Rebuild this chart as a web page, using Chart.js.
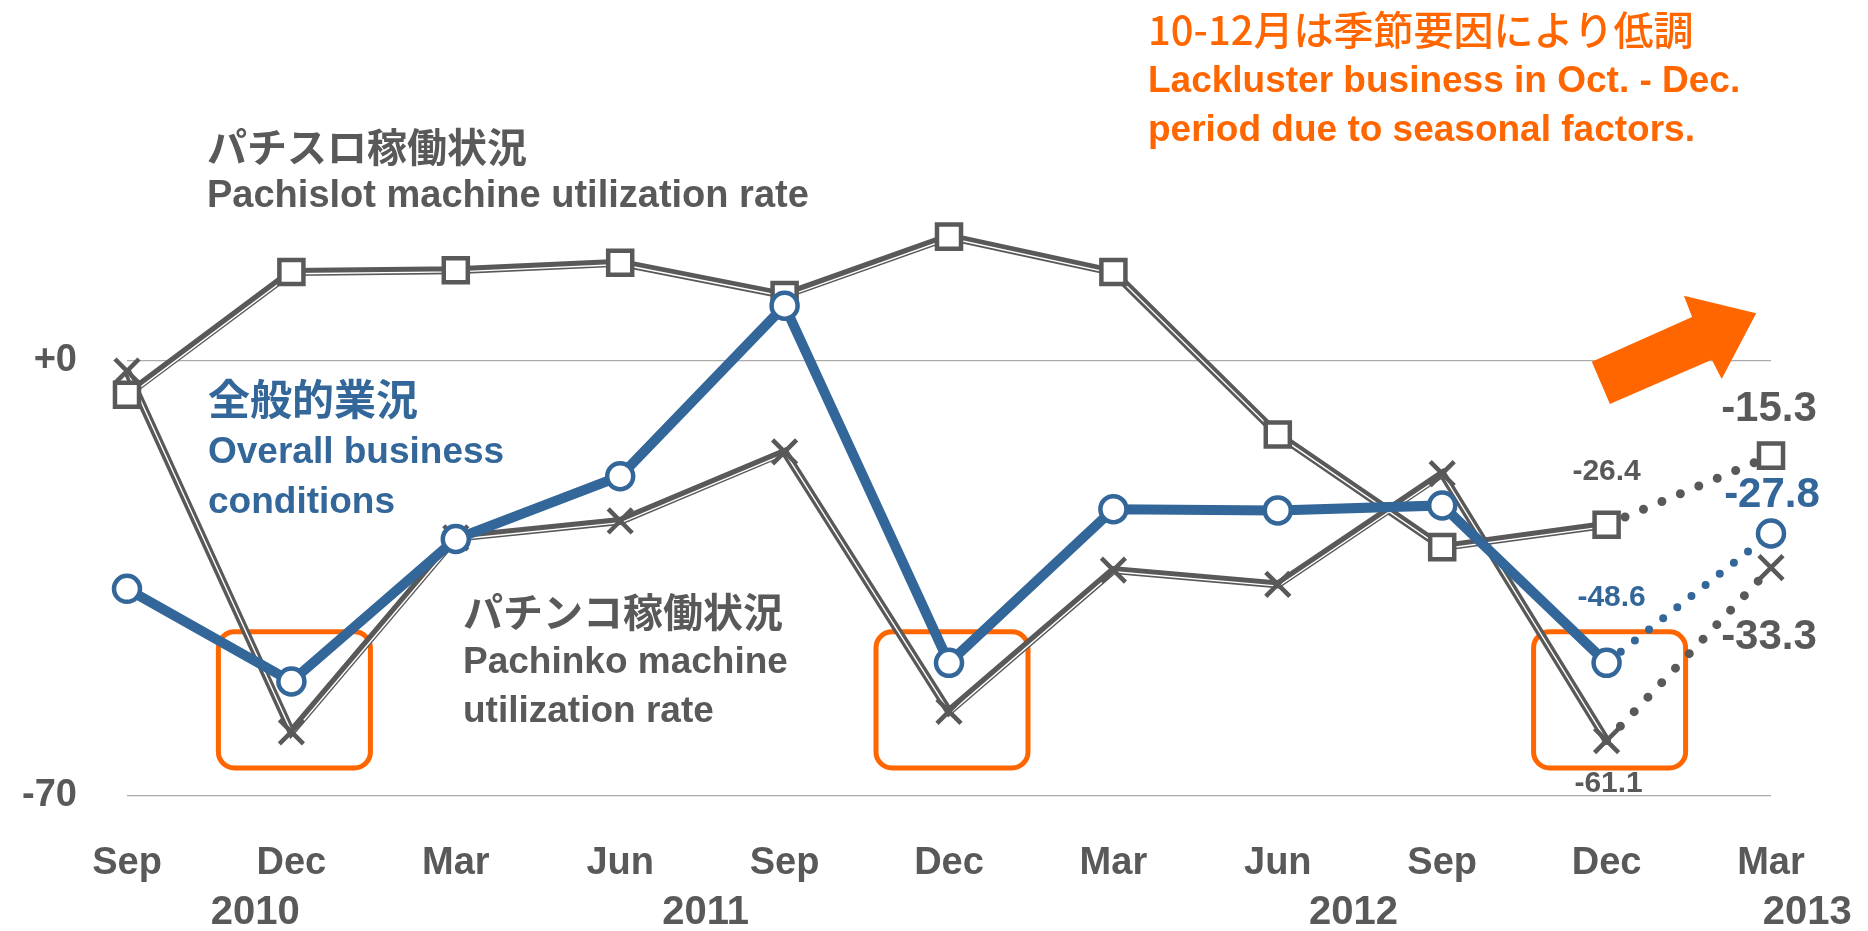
<!DOCTYPE html>
<html>
<head>
<meta charset="utf-8">
<script src="https://cdn.jsdelivr.net/npm/chart.js@4.4.1/dist/chart.umd.min.js"></script>
<style>
  html, body { margin: 0; padding: 0; background: #fff; }
  #wrap { width: 1868px; height: 931px; }
</style>
</head>
<body>
<div id="wrap"><canvas id="myChart" width="1868" height="931"></canvas></div>
<script>
// quarters, Sep 2010 .. Mar 2013 (last point = forecast)
const months = ['Sep', 'Dec', 'Mar', 'Jun', 'Sep', 'Dec', 'Mar', 'Jun', 'Sep', 'Dec', 'Mar'];
const years = ['2010', '2011', '2012', '2013'];
const yTicks = [-70, 0];

const overall   = [-36.7, -51.6, -28.7, -18.6, 8.8, -48.6, -23.9, -24.1, -23.3, -48.6, -27.8];
const pachislot = [-5.5, 14.2, 14.5, 15.7, 10.5, 19.9, 14.2, -11.9, -30.0, -26.4, -15.3];
const pachinko  = [-1.7, -59.7, -28.5, -25.8, -14.7, -56.4, -33.7, -36.0, -18.2, -61.1, -33.3];

const LAST_ACTUAL = 9;

const GRAY = '#595959';
const BLUE = '#336699';
const ORANGE = '#FF6600';
const EN = "'Liberation Sans', Arial, sans-serif";
const JP = "'Noto Sans CJK JP', 'Noto Sans', sans-serif";

function actual(arr) {
    return arr.map((v, i) => i <= LAST_ACTUAL ? v : null);
}
function forecast(arr) {
    return arr.map((v, i) => i >= LAST_ACTUAL ? v : null);
}

function grayLine(data, order) {
    return { data: actual(data), borderColor: GRAY, borderWidth: 8, pointRadius: 0, order: order };
}
function whiteLine(data, order) {
    return { data: actual(data), borderColor: '#ffffff', borderWidth: 1.4, pointRadius: 0, order: order, inner: true };
}
function dotLine(data, color, width, gap, order) {
    return {
        data: forecast(data), borderColor: color, borderWidth: width, borderDash: [0, gap],
        borderCapStyle: 'round', pointRadius: 0, order: order
    };
}
function markers(data, style, radius, color, order) {
    return {
        data: data, showLine: false, pointStyle: style, pointRadius: radius,
        pointBorderWidth: 4.5, pointBorderColor: color, pointBackgroundColor: '#ffffff', order: order
    };
}

function roundRect(ctx, x, y, w, h, r) {
    ctx.beginPath();
    ctx.moveTo(x + r, y);
    ctx.lineTo(x + w - r, y);
    ctx.arcTo(x + w, y, x + w, y + r, r);
    ctx.lineTo(x + w, y + h - r);
    ctx.arcTo(x + w, y + h, x + w - r, y + h, r);
    ctx.lineTo(x + r, y + h);
    ctx.arcTo(x, y + h, x, y + h - r, r);
    ctx.lineTo(x, y + r);
    ctx.arcTo(x, y, x + r, y, r);
    ctx.closePath();
}

function text(ctx, str, x, y, font, color, align) {
    ctx.font = font;
    ctx.fillStyle = color;
    ctx.textAlign = align || 'left';
    ctx.textBaseline = 'middle';
    ctx.fillText(str, x, y);
}

const annotations = {
    id: 'annotations',
    beforeDatasetsDraw(chart) {
        const { ctx, scales: { x, y } } = chart;
        // orange boxes around the Oct-Dec dips
        ctx.save();
        ctx.strokeStyle = ORANGE;
        ctx.lineWidth = 5;
        [1, 5, 9].forEach(i => {
            const cx = x.getPixelForValue(i) + 3;
            const top = y.getPixelForValue(-43.6);
            const bottom = y.getPixelForValue(-65.5);
            roundRect(ctx, cx - 76, top, 152, bottom - top, 16);
            ctx.stroke();
        });
        ctx.restore();
    },
    // shift the thin white core a bit so the gray line reads as thick + thin
    beforeDatasetDraw(chart, args) {
        if (chart.data.datasets[args.index].inner) {
            chart.ctx.save();
            chart.ctx.translate(1.0, 1.7);
        }
    },
    afterDatasetDraw(chart, args) {
        if (chart.data.datasets[args.index].inner) {
            chart.ctx.restore();
        }
    },
    afterDatasetsDraw(chart) {
        const { ctx } = chart;
        ctx.save();
        // series notes
        text(ctx, 'パチスロ稼働状況', 207, 147, 'bold 40px ' + JP, GRAY);
        text(ctx, 'Pachislot machine utilization rate', 207, 197, 'bold 38px ' + EN, GRAY);

        text(ctx, '全般的業況', 208, 399, 'bold 42px ' + JP, BLUE);
        text(ctx, 'Overall business', 208, 453, 'bold 37px ' + EN, BLUE);
        text(ctx, 'conditions', 208, 503, 'bold 37px ' + EN, BLUE);

        text(ctx, 'パチンコ稼働状況', 463, 612, 'bold 40px ' + JP, GRAY);
        text(ctx, 'Pachinko machine', 463, 663, 'bold 37px ' + EN, GRAY);
        text(ctx, 'utilization rate', 463, 712, 'bold 37px ' + EN, GRAY);

        text(ctx, '10-12月は季節要因により低調', 1148, 30, '500 40px ' + JP, ORANGE);
        text(ctx, 'Lackluster business in Oct. - Dec.', 1148, 82, 'bold 37px ' + EN, ORANGE);
        text(ctx, 'period due to seasonal factors.', 1148, 131, 'bold 37px ' + EN, ORANGE);

        // value labels for latest actual and forecast points (marker datasets)
        const valueLabels = [
            { ds: 4, idx: 9, dx: 0, dy: -53, size: 30, color: GRAY },
            { ds: 4, idx: 10, dx: -2, dy: -46, size: 42, color: GRAY },
            { ds: 3, idx: 9, dx: 2, dy: 43, size: 30, color: GRAY },
            { ds: 3, idx: 10, dx: -2, dy: 70, size: 42, color: GRAY },
            { ds: 0, idx: 9, dx: 5, dy: -65, size: 30, color: BLUE },
            { ds: 0, idx: 10, dx: 1, dy: -38, size: 42, color: BLUE }
        ];
        valueLabels.forEach(l => {
            const pt = chart.getDatasetMeta(l.ds).data[l.idx];
            const v = chart.data.datasets[l.ds].data[l.idx];
            text(ctx, v.toFixed(1), pt.x + l.dx, pt.y + l.dy, 'bold ' + l.size + 'px ' + EN, l.color, 'center');
        });
        ctx.restore();
    },
    afterDraw(chart) {
        const { ctx, scales: { x, y } } = chart;
        ctx.save();
        // upward arrow
        const arrow = [[9.02, -7.0], [8.91, -0.2], [9.52, 7.0], [9.47, 10.4], [9.91, 7.6], [9.70, -3.0], [9.64, 0.1]];
        ctx.beginPath();
        arrow.forEach((p, i) => {
            const px = x.getPixelForValue(p[0]);
            const py = y.getPixelForValue(p[1]);
            if (i === 0) ctx.moveTo(px, py); else ctx.lineTo(px, py);
        });
        ctx.closePath();
        ctx.fillStyle = ORANGE;
        ctx.fill();

        // year row under the month ticks
        const yearAt = [0.78, 3.52, 7.46, 10.22];
        years.forEach((yr, i) => {
            text(ctx, yr, x.getPixelForValue(yearAt[i]), 913, 'bold 40px ' + EN, GRAY, 'center');
        });
        ctx.restore();
    }
};

document.addEventListener('DOMContentLoaded', function () {
    const ctx = document.getElementById('myChart');

    new Chart(ctx, {
        type: 'line',
        data: {
            labels: months,
            datasets: [
                markers(overall, 'circle', 13, BLUE, 1),                     // 0
                { data: actual(overall), borderColor: BLUE, borderWidth: 10, pointRadius: 0, order: 2 }, // 1
                dotLine(overall, BLUE, 8, 18, 3),                            // 2 (forecast)
                markers(pachinko, 'crossRot', 17, GRAY, 4),                  // 3
                markers(pachislot, 'rect', 17, GRAY, 4),                     // 4
                dotLine(pachinko, GRAY, 9, 20, 5),                           // 5
                dotLine(pachislot, GRAY, 9, 20, 5),                          // 6
                grayLine(pachinko, 7),                                       // 7
                grayLine(pachislot, 7),                                      // 8
                whiteLine(pachinko, 6),                                      // 9
                whiteLine(pachislot, 6)                                      // 10
            ]
        },
        options: {
            responsive: false,
            animation: false,
            layout: {
                padding: { top: 40, right: 97, bottom: 0, left: 0 }
            },
            elements: {
                line: { tension: 0 }
            },
            scales: {
                x: {
                    grid: { display: false, drawTicks: false },
                    border: { display: false },
                    ticks: {
                        color: GRAY,
                        font: { family: EN, size: 38, weight: 'bold' },
                        padding: 45,
                        maxRotation: 0,
                        autoSkip: false
                    },
                    afterFit: axis => { axis.height = 135; }
                },
                y: {
                    min: -70,
                    max: 51.5,
                    afterBuildTicks: axis => {
                        axis.ticks = yTicks.map(v => ({ value: v }));
                    },
                    grid: { color: '#ABABAB', lineWidth: 1.3, drawTicks: false },
                    border: { display: false },
                    ticks: {
                        color: GRAY,
                        font: { family: EN, size: 38, weight: 'bold' },
                        padding: 50,
                        callback: v => v === 0 ? '+0' : String(v)
                    },
                    afterFit: axis => {
                        axis.width = 127;
                        axis.paddingTop = 0;
                        axis.paddingBottom = 0;
                    }
                }
            },
            plugins: {
                legend: { display: false },
                tooltip: { enabled: false }
            }
        },
        plugins: [annotations]
    });
});
</script>
</body>
</html>
